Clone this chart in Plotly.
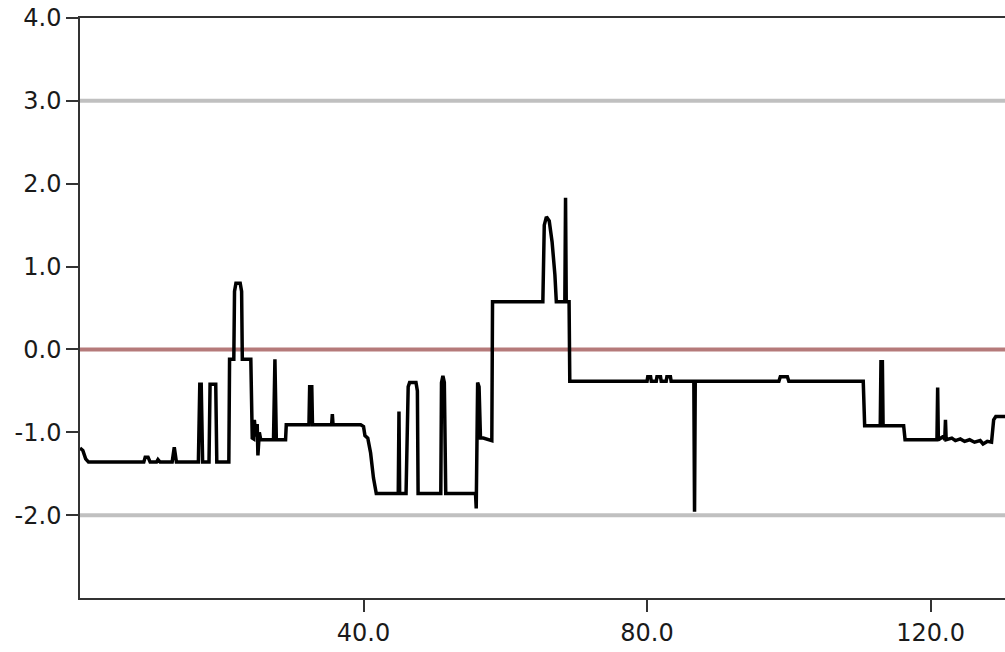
import plotly.graph_objects as go

# Series
x_vals = [0, 0.4, 0.8, 1.2, 9.0, 9.2, 9.6, 9.9, 10.8, 11.0, 11.3, 13.0, 13.3, 13.6,
          16.7, 16.9, 17.1, 17.3, 18.2, 18.35, 19.15, 19.3, 21.0, 21.1, 21.7, 21.8, 22.0,
          22.6, 22.8, 22.9, 24.1, 24.3, 24.5, 24.6, 24.8, 25.0, 25.1, 25.3, 25.5, 27.3,
          27.5, 27.7, 29.0, 29.1, 32.3, 32.4, 32.7, 32.8, 35.5, 35.6, 35.7, 39.6, 40.0,
          40.2, 40.6, 41.0, 41.4, 41.8, 44.9, 45.0, 45.1, 46.0, 46.3, 46.5, 47.4, 47.6,
          47.7, 50.9, 51.0, 51.2, 51.4, 51.6, 55.8, 55.9, 56.1, 56.3, 56.5, 56.9, 58.1,
          58.2, 65.3, 65.5, 65.8, 66.2, 66.6, 67.0, 67.2, 68.4, 68.5, 68.6, 69.0, 69.1,
          80.0, 80.1, 80.5, 80.6, 81.3, 81.4, 81.9, 82.0, 82.7, 82.8, 83.3, 83.4, 86.6,
          86.7, 86.8, 98.6, 98.8, 99.8, 100.0, 110.5, 110.7, 112.9, 113.0, 113.2, 113.3,
          116.2, 116.4, 120.9, 121.0, 121.1, 121.8, 122.0, 122.1, 122.2, 123.0, 123.5,
          124.2, 124.8, 125.5, 126.2, 127.0, 127.4, 128.0, 128.6, 128.9, 129.2, 130.5]
y_vals = [-1.19, -1.22, -1.32, -1.36, -1.36, -1.30, -1.30, -1.36, -1.36, -1.33, -1.36, -1.36, -1.18, -1.36,
          -1.36, -0.42, -0.42, -1.36, -1.36, -0.42, -0.42, -1.36, -1.36, -0.12, -0.12, 0.70, 0.80,
          0.80, 0.70, -0.12, -0.12, -1.07, -1.08, -0.85, -1.05, -0.90, -1.28, -1.00, -1.09, -1.09,
          -0.12, -1.09, -1.09, -0.91, -0.91, -0.45, -0.45, -0.91, -0.91, -0.78, -0.91, -0.91, -0.93,
          -1.04, -1.07, -1.25, -1.55, -1.74, -1.74, -0.75, -1.74, -1.74, -0.45, -0.40, -0.40, -0.50,
          -1.74, -1.74, -0.40, -0.32, -0.40, -1.74, -1.74, -1.92, -0.40, -0.45, -1.07, -1.07, -1.10,
          0.575, 0.575, 1.50, 1.60, 1.55, 1.30, 0.90, 0.575, 0.575, 1.83, 0.575, 0.575, -0.385,
          -0.385, -0.33, -0.33, -0.385, -0.385, -0.33, -0.33, -0.385, -0.385, -0.33, -0.33, -0.385, -0.385,
          -1.96, -0.385, -0.385, -0.33, -0.33, -0.385, -0.385, -0.92, -0.92, -0.15, -0.15, -0.92,
          -0.92, -1.09, -1.09, -0.46, -1.09, -1.05, -1.09, -0.85, -1.09, -1.07, -1.10,
          -1.08, -1.11, -1.09, -1.12, -1.10, -1.14, -1.11, -1.12, -0.85, -0.81, -0.81]

ref_lines = [3.0, -2.0]
center_line = 0.0
x_ticks = [40, 80, 120]
y_ticks = [4, 3, 2, 1, 0, -1, -2]

fig = go.Figure()
fig.add_trace(go.Scatter(x=x_vals, y=y_vals, mode="lines",
                         line=dict(color="black", width=3.5), showlegend=False,
                         hoverinfo="skip"))
for v in ref_lines:
    fig.add_shape(type="line", xref="paper", x0=0, x1=1, yref="y", y0=v, y1=v,
                  line=dict(color="#c0c0c0", width=4), layer="below")
fig.add_shape(type="line", xref="paper", x0=0, x1=1, yref="y", y0=center_line, y1=center_line,
              line=dict(color="#b57a7a", width=4), layer="below")

fig.update_layout(
    width=1005, height=652,
    margin=dict(l=80, r=0, t=18, b=54),
    paper_bgcolor="white", plot_bgcolor="white",
    font=dict(family="DejaVu Sans, Verdana, sans-serif", size=24, color="#1a1a1a"),
)
fig.update_xaxes(range=[0, 130.5], tickvals=x_ticks, ticktext=[f"{v:.1f}" for v in x_ticks],
                 ticks="outside", ticklen=12, tickcolor="#333", tickwidth=1.5,
                 showline=True, linecolor="#333", linewidth=1.5, mirror=True,
                 showgrid=False, zeroline=False)
fig.update_yaxes(range=[-3.0, 4.0], tickvals=y_ticks, ticktext=[f"{v:.1f}" for v in y_ticks],
                 ticks="outside", ticklen=12, tickcolor="#333", tickwidth=1.5,
                 showline=True, linecolor="#333", linewidth=1.5, mirror=False,
                 showgrid=False, zeroline=False)

fig.write_html("out.html", config={"displayModeBar": False},
               post_script="document.body.style.margin='0';")
